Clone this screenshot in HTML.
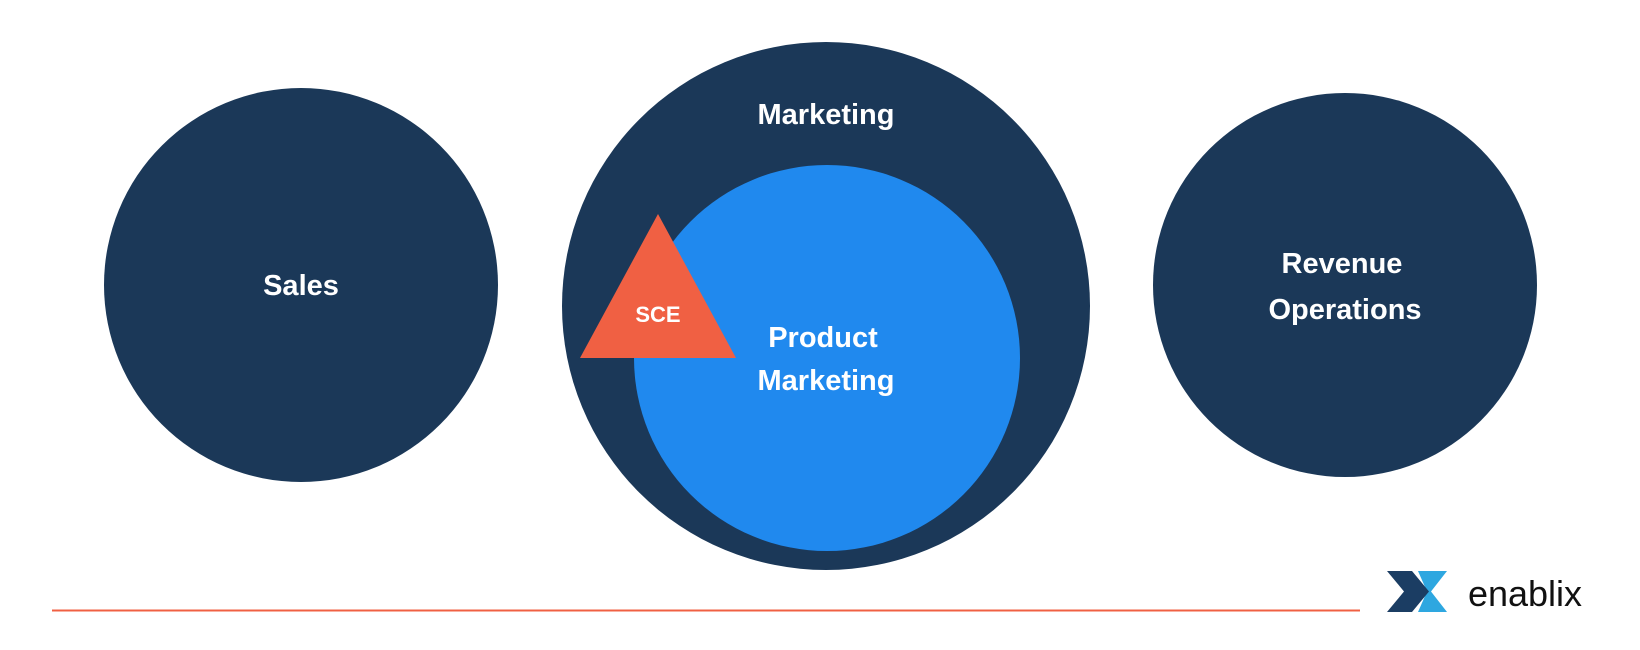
<!DOCTYPE html>
<html><head><meta charset="utf-8"><style>
html,body{margin:0;padding:0;background:#fff;}
svg{display:block;}
text{font-family:"Liberation Sans",sans-serif;font-weight:bold;fill:#fff;text-anchor:middle;}
</style></head><body>
<svg width="1640" height="650" viewBox="0 0 1640 650">
<circle cx="301" cy="285" r="197" fill="#1b3858"/>
<circle cx="826" cy="306" r="264" fill="#1b3858"/>
<circle cx="827" cy="358" r="193" fill="#2089ee"/>
<circle cx="1345" cy="285" r="192" fill="#1b3858"/>
<polygon points="658,214 580,358 736,358" fill="#f06043"/>
<text x="826" y="124" font-size="29">Marketing</text>
<text x="301" y="295" font-size="29">Sales</text>
<text x="1342" y="273" font-size="29">Revenue</text>
<text x="1345" y="319" font-size="29">Operations</text>
<text x="823" y="347" font-size="29">Product</text>
<text x="826" y="390" font-size="29">Marketing</text>
<text x="658" y="322" font-size="22">SCE</text>
<line x1="52" y1="610.5" x2="1360" y2="610.5" stroke="#f06043" stroke-width="2"/>
<polygon points="1418,571 1447,571 1431,591.5 1447,612 1418,612 1427,591.5" fill="#2ea7e0"/>
<polygon points="1387,571 1412,571 1429,591.5 1412,612 1387,612 1404,591.5" fill="#1b3d63"/>
<text x="1525" y="606" font-size="36" style="font-weight:normal;fill:#111;">enablix</text>
</svg>
</body></html>
